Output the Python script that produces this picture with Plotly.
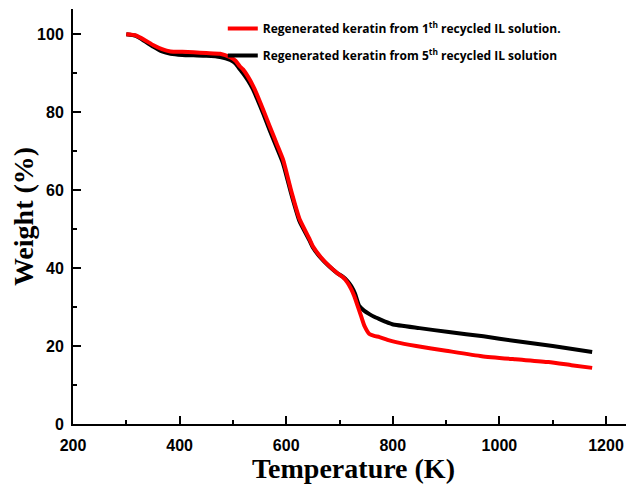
import plotly.graph_objects as go

# Regenerated keratin from 1th recycled IL solution (red)
temp_1 = [300, 318, 335, 351, 367, 383, 405, 426, 450, 476, 495, 505, 513, 519, 528, 538, 545, 557, 569,
          582, 594, 610, 625, 644, 650, 665, 681, 695, 706, 715, 722, 728, 734, 741, 747, 756, 765, 775,
          790, 806, 844, 900, 967, 1030, 1092, 1135, 1174]
weight_1 = [100, 99.7, 98.5, 97.2, 96.2, 95.6, 95.5, 95.4, 95.2, 95.0, 94.1, 93.2, 91.8, 91.0, 89.2, 86.7,
            84.6, 80.6, 76.4, 72.0, 67.9, 59.5, 52.6, 47.4, 45.6, 42.8, 40.5, 38.8, 37.7, 36.3, 34.6, 32.7,
            30.3, 27.5, 25.1, 23.1, 22.6, 22.3, 21.6, 21.0, 20.0, 18.8, 17.4, 16.6, 15.9, 15.1, 14.4]

# Regenerated keratin from 5th recycled IL solution (black)
temp_5 = [300, 318, 335, 351, 367, 383, 405, 426, 450, 476, 495, 505, 513, 519, 528, 538, 545, 557, 569,
          582, 594, 610, 625, 644, 650, 665, 681, 695, 706, 715, 722, 729, 737, 746, 756, 765, 775, 787,
          799, 850, 905, 970, 1030, 1100, 1174]
weight_5 = [100, 99.6, 98.2, 96.8, 95.6, 95.0, 94.7, 94.6, 94.5, 94.2, 93.4, 92.5, 91.0, 90.0, 88.2, 85.8,
            83.6, 79.6, 75.4, 71.0, 66.9, 58.8, 52.0, 47.0, 45.3, 42.6, 40.4, 38.8, 37.8, 36.7, 35.4, 33.5,
            30.3, 29.1, 28.2, 27.5, 26.9, 26.2, 25.6, 24.6, 23.6, 22.5, 21.3, 20.0, 18.5]

name_1 = "Regenerated keratin from 1<sup>th</sup> recycled IL solution."
name_5 = "Regenerated keratin from 5<sup>th</sup> recycled IL solution"

x_ticks = [200, 400, 600, 800, 1000, 1200]
y_ticks = [0, 20, 40, 60, 80, 100]

fig = go.Figure()
fig.add_trace(go.Scatter(x=temp_5, y=weight_5, mode="lines", name=name_5,
                         legendgroup="g5", legendrank=2,
                         line=dict(color="#000000", width=4, shape="spline", smoothing=0.5)))
fig.add_trace(go.Scatter(x=temp_1, y=weight_1, mode="lines", name=name_1,
                         legendgroup="g1", legendrank=1,
                         line=dict(color="#ff0000", width=4, shape="spline", smoothing=0.5)))

axis_common = dict(showgrid=False, zeroline=False, showline=True, linecolor="black", linewidth=2,
                   ticks="inside", ticklen=8, tickwidth=2, tickcolor="black", automargin=False,
                   tickfont=dict(family="Liberation Sans", size=16, color="black", weight="bold"))

# The page body has an 8px default margin, so the figure is sized to fit the window.
fig.update_layout(
    width=626, height=476,
    margin=dict(l=65, r=0, t=1, b=60),
    paper_bgcolor="white", plot_bgcolor="white",
    showlegend=True,
    legend=dict(x=0.267, y=0.988, xanchor="left", yanchor="top", traceorder="grouped",
                tracegroupgap=8, bgcolor="rgba(0,0,0,0)",
                font=dict(family="Open Sans", size=12, color="black", weight="bold")),
    xaxis=dict(range=[200, 1252.5], tickvals=x_ticks, ticktext=[str(v) for v in x_ticks],
               ticklabelstandoff=6,
               minor=dict(dtick=100, ticks="inside", ticklen=4, tickwidth=2, tickcolor="black"),
               title=dict(text="Temperature (K)", standoff=2,
                          font=dict(family="Liberation Serif", size=28, color="black", weight="bold")),
               **axis_common),
    yaxis=dict(range=[0, 106.5], tickvals=y_ticks, ticktext=[str(v) for v in y_ticks],
               ticklabelstandoff=4,
               minor=dict(dtick=10, ticks="inside", ticklen=4, tickwidth=2, tickcolor="black"),
               title=dict(text="Weight (%)", standoff=0,
                          font=dict(family="Liberation Serif", size=28, color="black", weight="bold")),
               **axis_common),
)

fig.write_html("out.html")
